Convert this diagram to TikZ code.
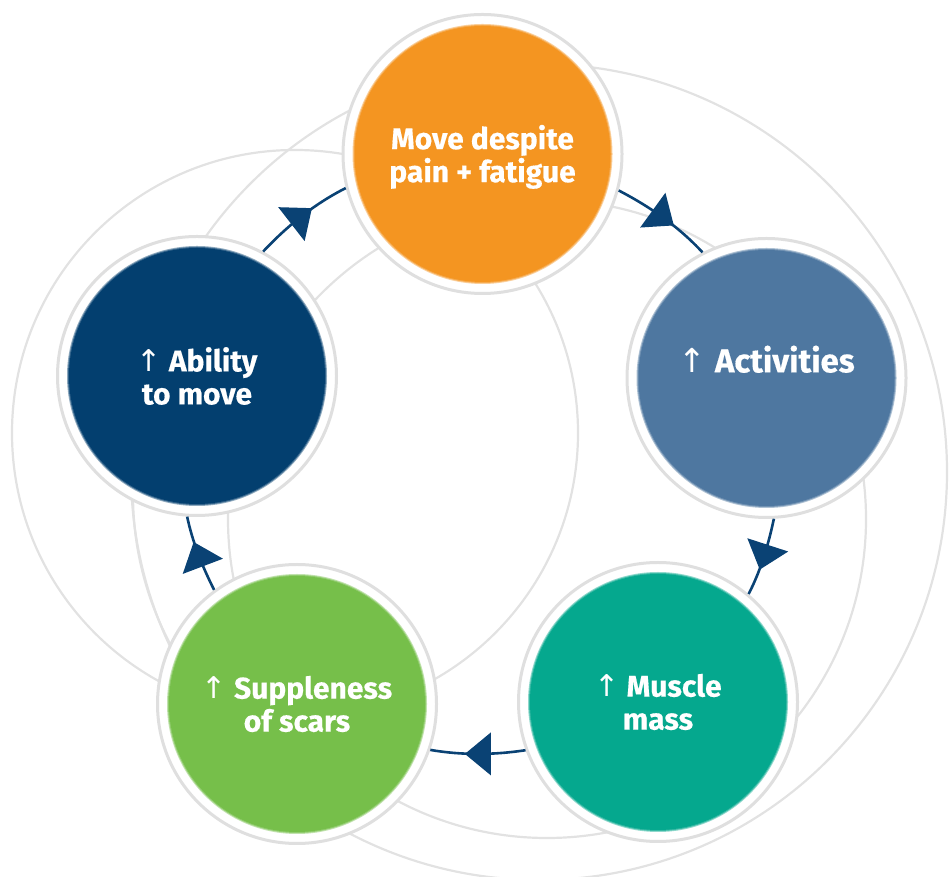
\documentclass[tikz,border=0pt]{standalone}
\usepackage{fontspec}
\setmainfont{Fira Sans}[BoldFeatures={FakeBold=0.4}]
\newfontfamily\arrowfont{DejaVu Sans}
\usetikzlibrary{arrows.meta,decorations.markings}
\definecolor{ringgray}{HTML}{DFDFDF}
\definecolor{orbitgray}{HTML}{E2E2E2}
\definecolor{navyline}{HTML}{0A4274}
\definecolor{corange}{HTML}{F49521}
\definecolor{cactivity}{HTML}{4E77A0}
\definecolor{cmuscle}{HTML}{05A88E}
\definecolor{cgreen}{HTML}{76BF4A}
\definecolor{cnavy}{HTML}{033F6F}
\newcommand{\uparr}{{\arrowfont\mdseries ↑}}
\begin{document}
\begin{tikzpicture}[x=1pt,y=1pt,
  orbit/.style={draw=orbitgray, line width=2.2pt},
  bubble/.style={circle, draw=ringgray, line width=3pt, fill=white,
    minimum size=279pt, inner sep=0pt, text=white,
    font=\bfseries\fontsize{30}{33}\selectfont, align=center,
    path picture={
      \fill[#1!45!white] (path picture bounding box.center) circle[radius=130pt];
      \fill[#1!80!white] (path picture bounding box.center) circle[radius=129pt];
      \fill[#1] (path picture bounding box.center) circle[radius=128pt];}},
  flow/.style={draw=navyline, line width=2.6pt, looseness=0.86, postaction={decorate},
    decoration={markings, mark=at position 0.5 with
      {\fill[navyline] (13pt,0pt) -- (-13pt,21.5pt) -- (-13pt,-21.5pt) -- cycle;}}},
]
\useasboundingbox (0,0) rectangle (952,877);
% decorative orbits
\draw[orbit] (539,405) circle[radius=408];
\draw[orbit] (295,444) circle[radius=283];
\draw[orbit] (547,358) circle[radius=319];
\draw[orbit] (450,382) ++(177:317) arc[start angle=177, end angle=212, radius=317];
% bubbles
\node[bubble=corange]   (O) at (482.5,723) {\rule{0pt}{30pt}Move despite\\pain + fatigue};
\node[bubble=cactivity] (A) at (766.5,499) {\raisebox{38pt}{\fontsize{33}{36}\selectfont\uparr\hspace{9pt}Activities}};
\node[bubble=cmuscle]   (M) at (658,175)   {\uparr\ Muscle\\mass};
\node[bubble=cgreen]    (S) at (297,173)   {\uparr\ Suppleness\\of scars};
\node[bubble=cnavy]     (B) at (197,501)   {\uparr\ Ability\\to move};
% cycle (arcs of one circle through the five bubbles)
\draw[flow] (O.-15.04) to[out=-27.43, in=132.71] (A.117.8);
\draw[flow] (A.-87.2)  to[out=-102.11, in=62.78] (M.50.85);
\draw[flow] (M.200.56) to[out=188.62, in=-9.83] (S.-19.31);
\draw[flow] (S.126.15) to[out=116.63, in=-78.25] (B.266.5);
\draw[flow] (B.62.1)   to[out=46.85, in=206.83] (O.194.5);
\end{tikzpicture}
\end{document}
